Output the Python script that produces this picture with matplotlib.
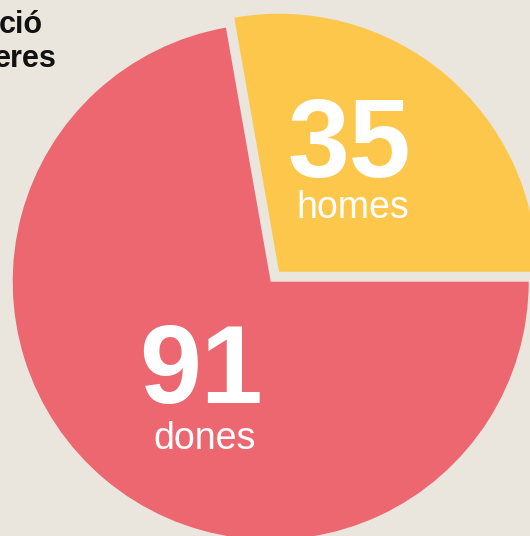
import matplotlib

matplotlib.use("Agg")
import matplotlib.pyplot as plt

# data
labels = ["homes", "dones"]
values = [35, 91]
colors = ["#FDC74C", "#EC6770"]

BG = "#EAE6DD"
W, H = 530, 536
CX, CY, R = 270.7, H - 281.7, 258
GAP = 13  # pie explode is in data units (pixels here)

fig = plt.figure(figsize=(W / 100, H / 100), dpi=100, facecolor=BG)
ax = fig.add_axes([0, 0, 1, 1])
ax.set_facecolor(BG)

ax.pie(
    values,
    colors=colors,
    explode=[GAP, 0],
    startangle=0,
    counterclock=True,
    center=(CX, CY),
    radius=R,
    wedgeprops=dict(linewidth=0),
)
ax.set_xlim(0, W)
ax.set_ylim(0, H)
ax.set_aspect("equal")
ax.axis("off")

font = "Liberation Sans"
# number + label inside each wedge: x, number baseline, label baseline (px from top)
pos = {"homes": (349, 177, 218), "dones": (201, 403, 449)}
for lab, val in zip(labels, values):
    x, yn, yl = pos[lab]
    ax.text(x, H - yn, str(val), ha="center", va="baseline", color="white",
            fontsize=80, fontweight="bold", family=font)
    ax.text(x + 4, H - yl, lab, ha="center", va="baseline", color="white",
            fontsize=27, family=font)

# title (cut off on the left in the source)
ax.text(43, H - 33, "ció", ha="right", va="baseline", color="#111111",
        fontsize=22, fontweight="bold", family=font)
ax.text(57, H - 67, "eres", ha="right", va="baseline", color="#111111",
        fontsize=22, fontweight="bold", family=font)

fig.savefig("out.png", dpi=100, facecolor=BG)
